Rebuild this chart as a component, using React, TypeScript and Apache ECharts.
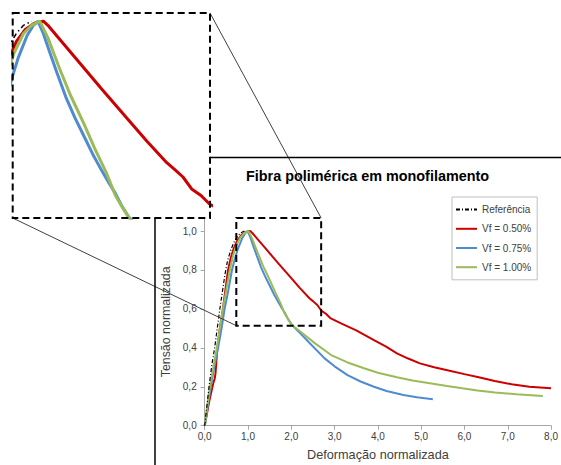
import React, { useEffect, useRef } from 'react';
import * as echarts from 'echarts';

const xTicks = [0, 1, 2, 3, 4, 5, 6, 7, 8];
const yTicks = [0, 0.2, 0.4, 0.6, 0.8, 1.0];
const seriesNames = ['Referência', 'Vf = 0.50%', 'Vf = 0.75%', 'Vf = 1.00%'];

const referencia: number[][] = [
  [0, 0], [0.03, 0.06], [0.06, 0.12], [0.1, 0.2], [0.14, 0.27], [0.17, 0.32], [0.23, 0.4],
  [0.29, 0.5], [0.35, 0.6], [0.41, 0.69], [0.47, 0.78], [0.53, 0.85], [0.6, 0.9],
  [0.67, 0.94], [0.75, 0.97], [0.83, 0.99], [0.92, 1.0],
];

const vf050: number[][] = [
  [0, 0], [0.05, 0.06], [0.1, 0.12], [0.15, 0.17], [0.2, 0.22], [0.23, 0.24], [0.25, 0.27],
  [0.27, 0.33], [0.29, 0.4], [0.35, 0.5], [0.42, 0.6], [0.48, 0.7], [0.54, 0.8], [0.6, 0.86],
  [0.67, 0.91], [0.75, 0.95], [0.85, 0.98], [0.95, 0.995], [1.05, 1.0], [1.1, 0.99],
  [1.4, 0.912], [1.7, 0.834], [2.0, 0.758], [2.2, 0.707], [2.42, 0.655], [2.5, 0.64],
  [2.6, 0.62], [2.7, 0.59], [2.8, 0.575], [2.9, 0.553], [3.15, 0.526], [3.5, 0.49],
  [3.91, 0.44], [4.2, 0.405], [4.44, 0.372], [4.7, 0.345], [4.97, 0.32], [5.3, 0.3],
  [5.58, 0.286], [6.0, 0.265], [6.33, 0.249], [6.7, 0.23], [7.09, 0.213], [7.5, 0.2],
  [8.0, 0.192],
];

const vf075: number[][] = [
  [0, 0], [0.04, 0.05], [0.07, 0.1], [0.14, 0.2], [0.22, 0.3], [0.31, 0.4], [0.39, 0.5],
  [0.46, 0.6], [0.55, 0.7], [0.63, 0.8], [0.7, 0.86], [0.77, 0.91], [0.87, 0.965],
  [0.94, 0.99], [0.99, 1.0], [1.05, 0.97], [1.12, 0.925], [1.2, 0.875], [1.3, 0.815],
  [1.4, 0.765], [1.5, 0.72], [1.6, 0.675], [1.7, 0.635], [1.78, 0.605], [1.85, 0.58],
  [1.92, 0.55], [2.0, 0.522], [2.17, 0.483], [2.4, 0.43], [2.77, 0.346], [3.0, 0.305],
  [3.3, 0.26], [3.6, 0.227], [3.91, 0.2], [4.2, 0.178], [4.59, 0.158], [4.9, 0.146],
  [5.27, 0.136],
];

const vf100: number[][] = [
  [0, 0], [0.03, 0.05], [0.06, 0.1], [0.12, 0.2], [0.2, 0.3], [0.28, 0.4], [0.35, 0.5],
  [0.42, 0.6], [0.5, 0.7], [0.58, 0.8], [0.65, 0.87], [0.72, 0.92], [0.83, 0.97],
  [0.92, 0.99], [1.01, 1.0], [1.1, 0.96], [1.22, 0.89], [1.35, 0.82], [1.5, 0.75],
  [1.62, 0.69], [1.75, 0.63], [1.85, 0.575], [1.93, 0.545], [2.01, 0.517], [2.17, 0.49],
  [2.55, 0.423], [2.92, 0.363], [3.3, 0.325], [3.68, 0.295], [4.0, 0.272], [4.44, 0.249],
  [4.8, 0.232], [5.2, 0.218], [5.6, 0.204], [5.95, 0.192], [6.3, 0.181], [6.71, 0.17],
  [7.2, 0.162], [7.81, 0.153],
];

// zoomed region (data units) and inset ranges
const zoomBox = { x0: 0.73, x1: 2.69, y0: 0.514, y1: 1.067 };
const insetRange = { x0: 0.71, x1: 2.9, y0: 0.52, y1: 1.02 };

const colors = ['#000000', '#CC0000', '#4F8BD0', '#9BBB59'];
const FONT = 'Liberation Sans, Arial, sans-serif';

const fmt = (v: number) => v.toFixed(1).replace('.', ',');

export default function App() {
  const ref = useRef<HTMLDivElement>(null);
  useEffect(() => {
    const chart = echarts.init(ref.current!, null, { renderer: 'svg' });
    const data = [referencia, vf050, vf075, vf100];
    const mainSeries = data.map((d, i) => ({
      name: seriesNames[i],
      type: 'line',
      data: d,
      xAxisIndex: 0,
      yAxisIndex: 0,
      symbol: 'none',
      z: i === 0 ? 5 : 3,
      lineStyle: {
        color: colors[i],
        width: i === 0 ? 1.2 : 2,
        type: i === 0 ? [4, 2, 1, 2] : 'solid',
      },
      itemStyle: { color: colors[i] },
    }));
    const insetSeries = data.map((d, i) => ({
      name: seriesNames[i] + ' (zoom)',
      type: 'line',
      data: d,
      xAxisIndex: 1,
      yAxisIndex: 1,
      symbol: 'none',
      clip: true,
      z: i === 0 ? 5 : 3,
      lineStyle: {
        color: colors[i],
        width: i === 0 ? 1.5 : 3,
        type: i === 0 ? [5, 3, 1.5, 3] : 'solid',
      },
    }));
    const axisGray = '#A6A6A6';
    const option: any = {
      animation: false,
      backgroundColor: '#ffffff',
      title: {
        text: 'Fibra polimérica em monofilamento',
        left: 246,
        top: 169,
        padding: 0,
        textStyle: { fontFamily: FONT, fontSize: 14.4, fontWeight: 'bold', color: '#000' },
      },
      legend: {
        data: seriesNames,
        orient: 'vertical',
        left: 452,
        top: 197,
        padding: [7, 6, 7, 3],
        itemWidth: 21,
        itemHeight: 14,
        itemGap: 8,
        borderColor: '#BFBFBF',
        borderWidth: 1,
        backgroundColor: '#fff',
        itemStyle: { opacity: 0 },
        textStyle: { fontFamily: FONT, fontSize: 10, color: '#404040' },
      },
      grid: [
        { left: 204.7, right: 4.3, top: 218, bottom: 39.3, containLabel: false },
        { left: 12.7, top: 13, width: 197.3, height: 205, containLabel: false },
      ],
      xAxis: [
        {
          type: 'value',
          gridIndex: 0,
          min: xTicks[0],
          max: xTicks[xTicks.length - 1],
          interval: 1,
          name: 'Deformação normalizada',
          nameLocation: 'middle',
          nameGap: 23,
          nameTextStyle: { fontFamily: FONT, fontSize: 12.7, color: '#404040' },
          axisLine: { lineStyle: { color: axisGray, width: 1 } },
          axisTick: { show: true, length: 4, lineStyle: { color: axisGray } },
          axisLabel: { formatter: fmt, fontFamily: FONT, fontSize: 10, color: '#404040', margin: 6 },
          splitLine: { show: false },
        },
        {
          type: 'value',
          gridIndex: 1,
          min: insetRange.x0,
          max: insetRange.x1,
          show: false,
          splitLine: { show: false },
        },
      ],
      yAxis: [
        {
          type: 'value',
          gridIndex: 0,
          min: 0,
          max: zoomBox.y1,
          interval: 0.2,
          name: 'Tensão normalizada',
          nameLocation: 'middle',
          nameGap: 24,
          nameTextStyle: { fontFamily: FONT, fontSize: 12.4, color: '#404040' },
          axisLine: { show: true, lineStyle: { color: axisGray, width: 1 } },
          axisTick: { show: true, length: 4, lineStyle: { color: axisGray }, customValues: yTicks },
          axisLabel: { formatter: fmt, fontFamily: FONT, fontSize: 10, color: '#404040', margin: 8, customValues: yTicks },
          splitLine: { show: false },
        },
        {
          type: 'value',
          gridIndex: 1,
          min: insetRange.y0,
          max: insetRange.y1,
          show: false,
          splitLine: { show: false },
        },
      ],
      series: [...mainSeries, ...insetSeries],
    };
    chart.setOption(option);

    const p0 = (x: number, y: number) => chart.convertToPixel({ xAxisIndex: 0, yAxisIndex: 0 }, [x, y]) as number[];
    const p1 = (x: number, y: number) => chart.convertToPixel({ xAxisIndex: 1, yAxisIndex: 1 }, [x, y]) as number[];
    const zTL = p0(zoomBox.x0, zoomBox.y1);
    const zBR = p0(zoomBox.x1, zoomBox.y0);
    const iTL = p1(insetRange.x0, insetRange.y1);
    const iBR = p1(insetRange.x1, insetRange.y0);
    const dash = { stroke: '#000', lineWidth: 2, lineDash: [7, 4], fill: 'none' };
    const W = 561, H = 465;
    chart.setOption({
      graphic: [
        { type: 'rect', shape: { x: zTL[0], y: zTL[1], width: zBR[0] - zTL[0], height: zBR[1] - zTL[1] }, style: dash, z: 20, silent: true },
        { type: 'rect', shape: { x: iTL[0], y: iTL[1], width: iBR[0] - iTL[0], height: iBR[1] - iTL[1] }, style: dash, z: 20, silent: true },
        { type: 'line', shape: { x1: iBR[0], y1: iTL[1], x2: zBR[0], y2: zTL[1] }, style: { stroke: '#404040', lineWidth: 1 }, z: 19, silent: true },
        { type: 'line', shape: { x1: iTL[0], y1: iBR[1], x2: zTL[0], y2: zBR[1] }, style: { stroke: '#404040', lineWidth: 1 }, z: 19, silent: true },
        { type: 'line', shape: { x1: iBR[0], y1: 157.5, x2: W, y2: 157.5 }, style: { stroke: '#000', lineWidth: 1.5 }, z: 19, silent: true },
        { type: 'line', shape: { x1: 155, y1: iBR[1], x2: 155, y2: H }, style: { stroke: '#000', lineWidth: 1.5 }, z: 19, silent: true },
      ],
    });
    return () => chart.dispose();
  }, []);
  return <div ref={ref} style={{ position: 'absolute', left: 0, top: 0, width: 561, height: 465 }} />;
}
